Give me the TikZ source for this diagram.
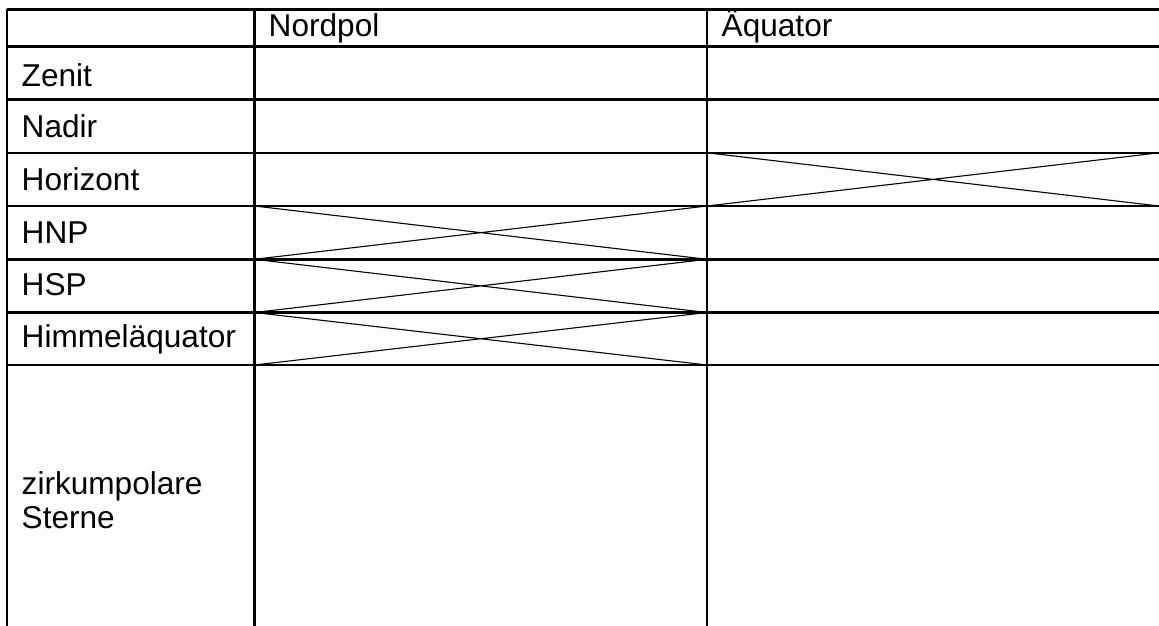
\documentclass[tikz,border=0pt]{standalone}
\usepackage{fontspec}
\setmainfont{Liberation Sans}
\usepackage{tikz}
\tikzstyle{grid}=[line width=2.4pt]
\tikzstyle{cross}=[line width=1.1pt]
\tikzstyle{cell}=[anchor=base west,inner sep=0pt,font=\fontsize{31.6}{34}\selectfont]
\tikzstyle{multi}=[anchor=west,inner sep=0pt,align=left,font=\fontsize{31.6}{34}\selectfont]

\begin{document}
\begin{tikzpicture}[x=1pt,y=-1pt]
      \useasboundingbox (0,0) rectangle (1159,626);
      % Gitter
      \foreach \y in {9.5,46.5,99.5,152.8,206,259.3,312.5,365}
        \draw[grid] (7,\y) -- (1159,\y);
      \foreach \x in {7,254.5,707}
        \draw[grid] (\x,9.5) -- (\x,626);
      % Kreuze
      \draw[cross] (707,152.8) -- (1159,206) (707,206) -- (1159,152.8);
      \draw[cross] (254.5,206) -- (707,259.3) (254.5,259.3) -- (707,206);
      \draw[cross] (254.5,259.3) -- (707,312.5) (254.5,312.5) -- (707,259.3);
      \draw[cross] (254.5,312.5) -- (707,365) (254.5,365) -- (707,312.5);
      % Kopf
      \node[cell] at (268.5,36.5) (nordpol) {Nordpol};
      \node[cell] at (721.5,37) (aequator) {Äquator};
      % Zeilen
      \node[cell] at (21.5,86) (zenit) {Zenit};
      \node[cell] at (21.5,137) (nadir) {Nadir};
      \node[cell] at (21.5,190) (horizont) {Horizont};
      \node[cell] at (21.5,243.5) (hnp) {HNP};
      \node[cell] at (21.5,295.5) (hsp) {HSP};
      \node[cell] at (21.5,347) (himmel) {Himmeläquator};
      \node[multi] at (21.5,500) (zirkum) {zirkumpolare\\Sterne};
    \end{tikzpicture}
\end{document}
